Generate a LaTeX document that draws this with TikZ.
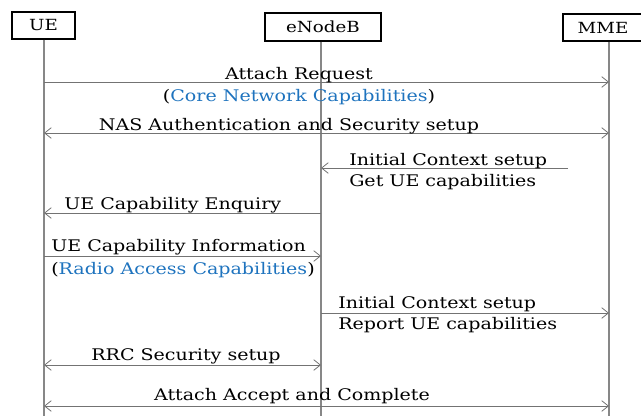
\documentclass[tikz,border=0pt]{standalone}
\usepackage{fontspec}
\setmainfont[FakeStretch=1.19]{DejaVu Serif}
\usetikzlibrary{arrows.meta}
\definecolor{lifegray}{RGB}{135,135,135}
\definecolor{msggray}{RGB}{115,115,115}
\definecolor{capblue}{RGB}{30,115,190}
\begin{document}
\begin{tikzpicture}[x=0.75pt,y=-0.75pt,
  entity/.style={draw=black,line width=0.9pt,fill=white,inner sep=0pt,font=\fontsize{11.5}{13}\selectfont},
  lifeline/.style={draw=lifegray,line width=1pt},
  msg/.style={draw=msggray,line width=0.7pt,-{Straight Barb[length=5pt,width=8pt,line width=0.6pt]}},
  bimsg/.style={draw=msggray,line width=0.7pt,{Straight Barb[length=5pt,width=8pt,line width=0.6pt]}-{Straight Barb[length=5pt,width=8pt,line width=0.6pt]}},
  lbl/.style={inner sep=0pt,anchor=base,font=\fontsize{12}{14}\selectfont},
  lbll/.style={inner sep=0pt,anchor=base west,font=\fontsize{12}{14}\selectfont}]
\useasboundingbox (0,0) rectangle (641,415);
% entities
\node[entity,minimum width=47.25pt,minimum height=20.25pt] (ue) at (43.5,25.5) {UE};
\node[entity,minimum width=87pt,minimum height=21pt] (enb) at (323,27) {eNodeB};
\node[entity,minimum width=60pt,minimum height=20.25pt] (mme) at (603,27.5) {MME};
% lifeline ends
\coordinate (ueE) at (44,416);
\coordinate (enbE) at (321,416);
\coordinate (mmeE) at (609,416);
\draw[lifeline] (ue.south -| ueE) -- (ueE);
\draw[lifeline] (enb.south -| enbE) -- (enbE);
\draw[lifeline] (mme.south -| mmeE) -- (mmeE);
% message anchor points
\coordinate (a1) at (44,82);   \coordinate (b1) at (609,82);
\coordinate (a2) at (44,133);  \coordinate (b2) at (609,133);
\coordinate (a3) at (568,168); \coordinate (b3) at (321,168);
\coordinate (a4) at (321,213); \coordinate (b4) at (44,213);
\coordinate (a5) at (44,256);  \coordinate (b5) at (321,256);
\coordinate (a6) at (321,313); \coordinate (b6) at (609,313);
\coordinate (a7) at (44,365);  \coordinate (b7) at (321,365);
\coordinate (a8) at (44,406);  \coordinate (b8) at (609,406);
% messages
\draw[msg] (a1) -- (b1);
\draw[bimsg] (a2) -- (b2);
\draw[msg] (a3) -- (b3);
\draw[msg] (a4) -- (b4);
\draw[msg] (a5) -- (b5);
\draw[msg] (a6) -- (b6);
\draw[bimsg] (a7) -- (b7);
\draw[bimsg] (a8) -- (b8);
% labels
\node[lbl] (t1) at (299,79) {Attach Request};
\node[lbl] (t1b) at (299,101) {(\textcolor{capblue}{Core Network Capabilities})};
\node[lbl] (t2) at (289,130) {NAS Authentication and Security setup};
\node[lbll] (t3) at (349,165) {Initial Context setup};
\node[lbll] (t3b) at (349,186) {Get UE capabilities};
\node[lbll] (t4) at (64,209) {UE Capability Enquiry};
\node[lbll] (t5) at (51,251) {UE Capability Information};
\node[lbll] (t5b) at (51,274) {(\textcolor{capblue}{Radio Access Capabilities})};
\node[lbll] (t6) at (338,308) {Initial Context setup};
\node[lbll] (t6b) at (338,329) {Report UE capabilities};
\node[lbl] (t7) at (186,360) {RRC Security setup};
\node[lbl] (t8) at (292,400) {Attach Accept and Complete};
\end{tikzpicture}
\end{document}
